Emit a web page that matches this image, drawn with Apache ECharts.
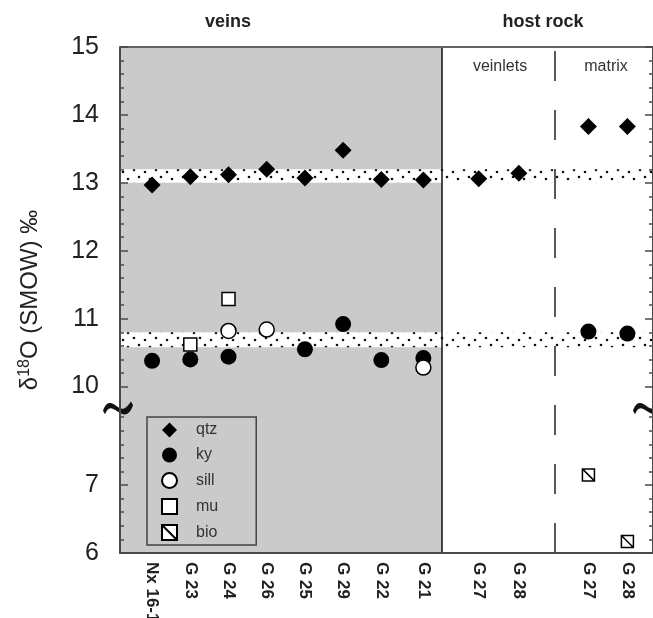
<!DOCTYPE html>
<html>
<head>
<meta charset="utf-8">
<script src="https://cdn.jsdelivr.net/npm/echarts@6/dist/echarts.min.js"></script>
<style>
  html, body { margin: 0; padding: 0; background: #fff; }
  #main { width: 653px; height: 618px; }
</style>
</head>
<body>
<div id="main"></div>
<script>
// samples along the x axis (position on the axis, label)
var categories = ['Nx 16-1', 'G 23', 'G 24', 'G 26', 'G 25', 'G 29', 'G 22', 'G 21', 'G 27', 'G 28', 'G 27', 'G 28'];
var xPos = [1, 2, 3, 4, 5, 6, 7, 8.1, 9.55, 10.6, 12.42, 13.44];

// δ18O values per mineral (null = not measured)
var qtz  = [12.97, 13.09, 13.12, 13.20, 13.07, 13.48, 13.05, 13.04, 13.06, 13.14, 13.83, 13.83];
var ky   = [10.38, 10.40, 10.44, null, 10.55, 10.92, 10.39, 10.42, null, null, 10.81, 10.78];
var sill = [null, null, 10.82, 10.84, null, null, null, 10.28, null, null, null, null];
var mu   = [null, 10.62, 11.29, null, null, null, null, null, null, null, null, null];
var bio  = [null, null, null, null, null, null, null, null, null, null, 7.15, 6.17];

// stippled equilibrium bands [from, to]
var bands = [[13.0, 13.2], [10.58, 10.80]];
var yTickLabels = [6, 7, 10, 11, 12, 13, 14, 15];

// section dividers on the x axis
var veinsEnd = 8.59;
var hostDivider = 11.55;
var xMin = 0.16, xMax = 14.11;

// broken y axis: values below 9 are shifted up so 8 sits just under 10
var BREAK_SHIFT = 1.55;
function toAxis(v) { return v < 9 ? v + BREAK_SHIFT : v; }
function fromAxis(t) { return t < 9.7 ? t - BREAK_SHIFT : t; }
var yMin = toAxis(6), yMax = 15;
var breakMid = 9.685;

var majorTicks = yTickLabels.map(toAxis);
var minorTicks = [];
for (var i = 0; i <= 10; i++) {
  var a = Math.round((6 + i * 0.2) * 10) / 10;
  if (yTickLabels.indexOf(a) < 0) minorTicks.push(toAxis(a));
}
for (var j = 0; j <= 25; j++) {
  var b = Math.round((10 + j * 0.2) * 10) / 10;
  if (yTickLabels.indexOf(b) < 0) minorTicks.push(b);
}

function pts(arr) {
  var out = [];
  arr.forEach(function (v, k) { if (v != null) out.push([xPos[k], toAxis(v)]); });
  return out;
}

// dotted fill for the bands
var dots = document.createElement('canvas');
dots.width = 22; dots.height = 14;
var ctx = dots.getContext('2d');
ctx.fillStyle = '#fff';
ctx.fillRect(0, 0, 22, 14);
ctx.fillStyle = '#111';
[[2, 2], [13, 4], [7, 9], [18, 11]].forEach(function (p) {
  ctx.beginPath(); ctx.arc(p[0], p[1], 1.3, 0, Math.PI * 2); ctx.fill();
});

var font = "'Liberation Sans', Arial, Helvetica, sans-serif";
var axisColor = '#4a4a4a';
var tilde = 'path://M0,9 C2,3 6,1 10,3 C14,5 17,8 21,7 C24,6 26,3 28,1 L30,4 C28,10 24,13 20,12 C16,11 13,8 9,7 C6,6 4,8 2,12 Z';

var myChart = echarts.init(document.getElementById('main'));

var option = {
  animation: false,
  backgroundColor: '#fff',
  textStyle: { fontFamily: font },
  grid: {
    left: 120, right: 0, top: 47, bottom: 65,
    outerBoundsMode: 'none', containLabel: false,
    backgroundColor: '#fff', show: true, borderWidth: 0
  },
  graphic: [
    { type: 'text', x: 228, y: 22, style: { text: 'veins', font: 'bold 18px ' + font, fill: '#222', align: 'center', verticalAlign: 'middle' } },
    { type: 'text', x: 543, y: 22, style: { text: 'host rock', font: 'bold 18px ' + font, fill: '#222', align: 'center', verticalAlign: 'middle' } },
    { type: 'text', x: 500, y: 67, style: { text: 'veinlets', font: '16px ' + font, fill: '#333', align: 'center', verticalAlign: 'middle' } },
    { type: 'text', x: 606, y: 67, style: { text: 'matrix', font: '16px ' + font, fill: '#333', align: 'center', verticalAlign: 'middle' } }
  ],
  legend: {
    orient: 'vertical',
    left: 147,
    top: 417,
    data: ['qtz', 'ky', 'sill', 'mu', 'bio'],
    itemWidth: 15,
    itemHeight: 15,
    itemGap: 9,
    padding: [5, 38, 4, 14],
    borderColor: '#444',
    borderWidth: 1.5,
    textStyle: { fontSize: 16, color: '#333', padding: [0, 0, 0, 14] }
  },
  xAxis: [{
    type: 'value',
    min: xMin,
    max: xMax,
    position: 'bottom',
    z: 10,
    splitLine: { show: false },
    axisLine: { show: true, lineStyle: { color: axisColor, width: 2 } },
    axisTick: { show: false },
    axisLabel: {
      customValues: xPos,
      rotate: -90,
      margin: 9,
      fontSize: 17,
      fontWeight: 'bold',
      color: '#222',
      formatter: function (v) {
        for (var k = 0; k < xPos.length; k++) if (Math.abs(xPos[k] - v) < 1e-6) return categories[k];
        return '';
      }
    }
  }, {
    type: 'value',
    min: xMin,
    max: xMax,
    position: 'top',
    z: 10,
    splitLine: { show: false },
    axisLine: { show: true, lineStyle: { color: '#666', width: 2 } },
    axisTick: { show: false },
    axisLabel: { show: false }
  }],
  yAxis: [{
    type: 'value',
    min: yMin,
    max: yMax,
    position: 'left',
    z: 10,
    name: '{t|δ}{s|18}{t|O (SMOW) ‰}',
    nameLocation: 'middle',
    nameRotate: 90,
    nameGap: 76,
    nameTextStyle: {
      rich: {
        t: { fontSize: 24, color: '#222', fontFamily: font },
        s: { fontSize: 16, color: '#222', fontFamily: font, padding: [0, 0, 11, 0] }
      }
    },
    splitLine: { show: false },
    axisLine: { show: true, lineStyle: { color: axisColor, width: 2 } },
    axisTick: { show: true, inside: true, length: 8, customValues: majorTicks, lineStyle: { color: axisColor, width: 1.5 } },
    axisLabel: {
      customValues: majorTicks,
      margin: 21,
      fontSize: 25,
      color: '#222',
      padding: [0, 0, 5, 0],
      formatter: function (v) { return String(Math.round(fromAxis(v) * 10) / 10); }
    }
  }, {
    type: 'value',
    min: yMin,
    max: yMax,
    position: 'left',
    z: 10,
    splitLine: { show: false },
    axisLine: { show: false },
    axisTick: { show: true, inside: true, length: 4, customValues: minorTicks, lineStyle: { color: axisColor, width: 1.5 } },
    axisLabel: { show: false }
  }, {
    type: 'value',
    min: yMin,
    max: yMax,
    position: 'right',
    z: 10,
    splitLine: { show: false },
    axisLine: { show: true, lineStyle: { color: axisColor, width: 2 } },
    axisTick: { show: true, inside: true, length: 8, customValues: majorTicks, lineStyle: { color: axisColor, width: 1.5 } },
    axisLabel: { show: false }
  }, {
    type: 'value',
    min: yMin,
    max: yMax,
    position: 'right',
    z: 10,
    splitLine: { show: false },
    axisLine: { show: false },
    axisTick: { show: true, inside: true, length: 4, customValues: minorTicks, lineStyle: { color: axisColor, width: 1.5 } },
    axisLabel: { show: false }
  }],
  series: [{
    // gray background for the vein samples
    name: 'veinsBg',
    type: 'scatter',
    data: [],
    z: 1,
    silent: true,
    markArea: {
      silent: true,
      itemStyle: { color: '#cacaca' },
      data: [[{ xAxis: xMin, yAxis: yMin }, { xAxis: veinsEnd, yAxis: yMax }]]
    }
  }, {
    name: 'bands',
    type: 'scatter',
    data: [],
    z: 2,
    silent: true,
    markArea: {
      silent: true,
      itemStyle: { color: { image: dots, repeat: 'repeat' } },
      data: bands.map(function (b) { return [{ xAxis: xMin, yAxis: b[0] }, { xAxis: xMax, yAxis: b[1] }]; })
    },
    markLine: {
      silent: true,
      symbol: ['none', 'none'],
      label: { show: false },
      data: [
        { xAxis: veinsEnd, lineStyle: { color: '#111', width: 1.5, type: 'solid' } },
        { xAxis: hostDivider, lineStyle: { color: '#222', width: 1.5, type: [30, 29] } }
      ]
    }
  }, {
    // axis break marks
    name: 'breaks',
    type: 'scatter',
    data: [],
    z: 12,
    silent: true,
    markPoint: {
      silent: true,
      symbol: tilde,
      symbolSize: [30, 13],
      itemStyle: { color: '#111' },
      label: { show: false },
      data: [
        { coord: [xMin, breakMid], symbolOffset: [-2, 0] },
        { coord: [xMax, breakMid], symbolOffset: [-5, 0] }
      ]
    }
  }, {
    name: 'qtz', type: 'scatter', z: 5, symbol: 'diamond', symbolSize: 17,
    itemStyle: { color: '#000', opacity: 1 },
    data: pts(qtz)
  }, {
    name: 'ky', type: 'scatter', z: 5, symbol: 'circle', symbolSize: 16,
    itemStyle: { color: '#000', opacity: 1 },
    data: pts(ky)
  }, {
    name: 'sill', type: 'scatter', z: 6, symbol: 'circle', symbolSize: 15,
    itemStyle: { color: '#fff', borderColor: '#000', borderWidth: 1.5, opacity: 1 },
    data: pts(sill)
  }, {
    name: 'mu', type: 'scatter', z: 6, symbol: 'rect', symbolSize: 13,
    itemStyle: { color: '#fff', borderColor: '#000', borderWidth: 1.5, opacity: 1 },
    data: pts(mu)
  }, {
    name: 'bio', type: 'scatter', z: 6, symbol: 'path://M0,0L10,0L10,10L0,10Z M0,0L10,10', symbolSize: 12,
    itemStyle: { color: '#fff', borderColor: '#000', borderWidth: 1.5, opacity: 1 },
    data: pts(bio)
  }]
};

myChart.setOption(option);
</script>
</body>
</html>
